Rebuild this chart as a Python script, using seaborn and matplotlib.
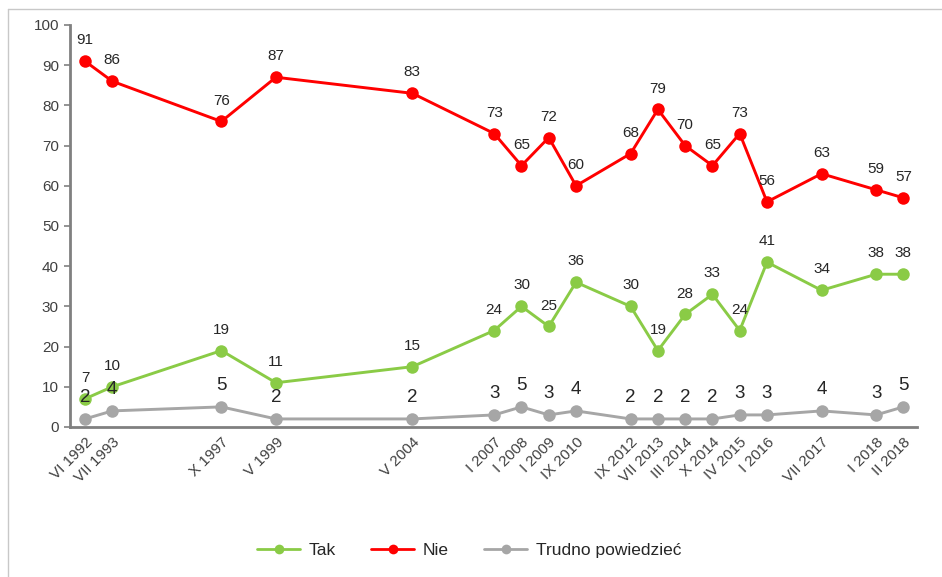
import pandas as pd
import numpy as np
import matplotlib.pyplot as plt
import seaborn as sns
from matplotlib.lines import Line2D

# survey waves (slot = position on Excel category axis, gaps left empty)
waves = ["VI 1992", "VII 1993", "X 1997", "V 1999", "V 2004", "I 2007", "I 2008",
         "I 2009", "IX 2010", "IX 2012", "VII 2013", "III 2014", "X 2014",
         "IV 2015", "I 2016", "VII 2017", "I 2018", "II 2018"]
slot = [0, 1, 5, 7, 12, 15, 16, 17, 18, 20, 21, 22, 23, 24, 25, 27, 29, 30]

tak = [7, 10, 19, 11, 15, 24, 30, 25, 36, 30, 19, 28, 33, 24, 41, 34, 38, 38]
nie = [91, 86, 76, 87, 83, 73, 65, 72, 60, 68, 79, 70, 65, 73, 56, 63, 59, 57]
trudno = [2, 4, 5, 2, 2, 3, 5, 3, 4, 2, 2, 2, 2, 3, 3, 4, 3, 5]

series = ["Tak", "Nie", "Trudno powiedzieć"]
colors = ["#8ACB46", "#FF0000", "#A6A6A6"]

df = pd.DataFrame({"slot": slot * 3,
                   "value": tak + nie + trudno,
                   "series": np.repeat(series, len(slot))})

sns.set_style("white")
plt.rcParams["font.family"] = ["Liberation Sans", "DejaVu Sans"]

fig = plt.figure(figsize=(9.42, 5.77), dpi=100)
ax = fig.add_axes([0.0743, 0.26, 0.8992, 0.6967])

sns.lineplot(data=df, x="slot", y="value", hue="series", palette=colors,
             marker="o", markersize=9, markeredgewidth=0, linewidth=2.1,
             legend=False, ax=ax)

# data labels
lab_size = {"Tak": 11, "Nie": 11, "Trudno powiedzieć": 13.5}
lab_off = {"Tak": 10, "Nie": 10, "Trudno powiedzieć": 9}
for name, vals in zip(series, [tak, nie, trudno]):
    for x, v in zip(slot, vals):
        ax.annotate(str(v), (x, v), xytext=(0, lab_off[name]), textcoords="offset points",
                    ha="center", va="bottom", fontsize=lab_size[name], color="#262626")

ax.set_xlim(-0.55, 30.5)
ax.set_ylim(0, 100)
ax.set_yticks(range(0, 101, 10))
ax.set_xticks(slot)
ax.set_xticklabels(waves, rotation=45, ha="right", rotation_mode="anchor")
ax.tick_params(axis="x", length=0, pad=6, labelsize=11, labelcolor="#404040")
ax.tick_params(axis="y", length=4, width=1.2, color="#808080", direction="out",
               left=True, pad=4, labelsize=11, labelcolor="#404040")
ax.set_xlabel("")
ax.set_ylabel("")
for s in ["top", "right"]:
    ax.spines[s].set_visible(False)
for s in ["left", "bottom"]:
    ax.spines[s].set_color("#808080")
    ax.spines[s].set_linewidth(2)

handles = [Line2D([], [], color=c, marker="o", markersize=7, markeredgewidth=0, linewidth=2)
           for c in colors]
fig.legend(handles, series, loc="center", bbox_to_anchor=(0.498, 0.046), ncol=3,
           frameon=False, fontsize=12.5, handlelength=2.5, columnspacing=2.0,
           handletextpad=0.5)

# thin frame lines (top and left) as in the original screenshot
fig.add_artist(Line2D([0.0085, 1], [0.985, 0.985], color="#C8C8C8", linewidth=1))
fig.add_artist(Line2D([0.0085, 0.0085], [0, 0.985], color="#C8C8C8", linewidth=1))

fig.savefig("out.png", dpi=100)
